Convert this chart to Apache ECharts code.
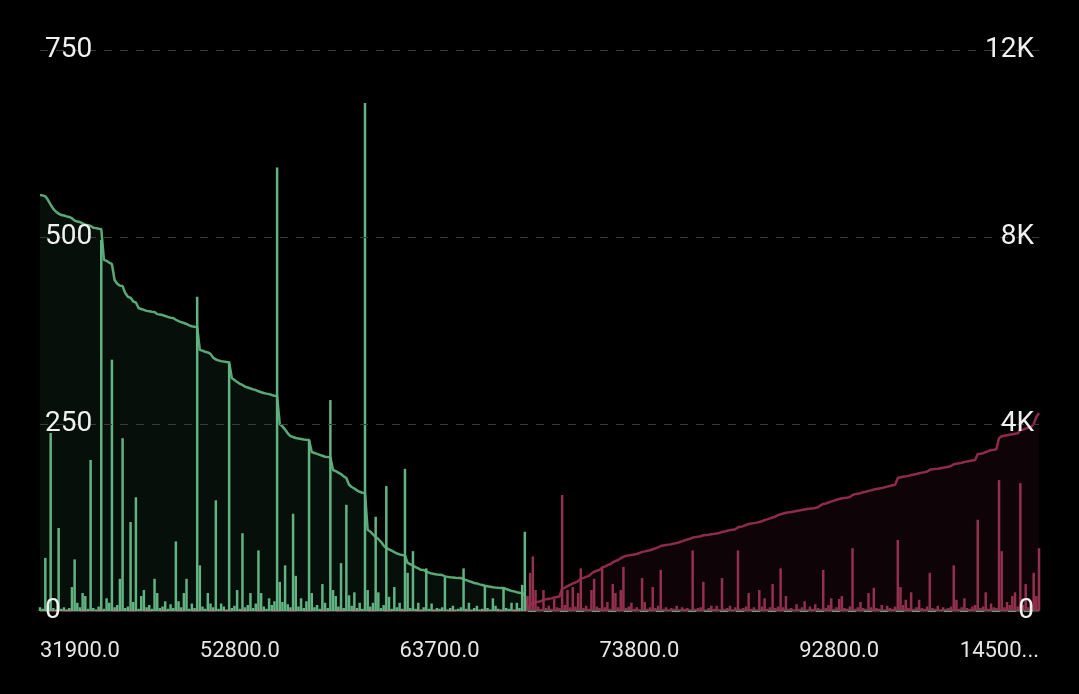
<!DOCTYPE html>
<html>
<head>
<meta charset="utf-8">
<script src="https://cdn.jsdelivr.net/npm/echarts@6/dist/echarts.min.js"></script>
<style>
html,body{margin:0;padding:0;background:#000;}
#chart{width:1079px;height:694px;}
</style>
</head>
<body>
<div id="chart"></div>
<script>
// ---- data ----
const tickLabels = ['31900.0', '52800.0', '63700.0', '73800.0', '92800.0', '145000.0'];
const LABEL_STEP = 75;

// bid side (green), per price level, left axis
const bidSizes = [
  5,3,71,6,238,4,2,111,3,5, 2,4,32,69,11,5,24,20,3,202,
  4,2,6,496,3,17,11,336,5,8, 43,231,4,6,119,12,152,3,20,28,
  5,8,3,43,24,4,6,13,3,9, 4,93,13,5,24,43,3,10,4,420,
  61,6,3,24,10,5,148,3,10,6, 2,331,4,7,28,3,104,5,8,24,
  4,10,81,24,6,3,17,8,13,593, 39,12,61,9,5,130,47,6,17,4,
  13,229,24,5,8,3,36,11,4,282, 28,20,6,64,4,142,21,7,25,4,
  11,3,679,28,6,11,126,25,4,8, 167,19,3,32,5,11,3,190,51,4,
  80,3,11,2,5,57,3,10,2,4, 3,5,45,2,4,7,2,3,5,57,
  3,11,2,4,7,2,3,33,4,2, 17,7,3,2,30,4,3,11,2,11,
  4,35,106
];
// bid cumulative depth, right axis
const bidDepth = [
  8900,8890,8870,8790,8690,8600,8540,8500,8470,8460, 8440,8430,8400,8350,8330,8320,8290,8260,8250,8235,
  8200,8190,8175,8170,7510,7490,7450,7420,7080,7000, 6960,6950,6800,6720,6700,6620,6600,6480,6460,6440,
  6420,6410,6400,6396,6350,6340,6330,6310,6290,6275, 6267,6230,6200,6180,6160,6140,6110,6090,6080,6075,
  5583,5570,5545,5530,5500,5420,5380,5360,5345,5335, 5326,5320,4984,4940,4900,4860,4835,4800,4780,4760,
  4740,4727,4700,4680,4663,4650,4640,4620,4605,4599, 4000,3950,3880,3800,3740,3722,3700,3690,3680,3670,
  3662,3658,3401,3380,3360,3340,3320,3300,3294,3290, 3016,2990,2960,2930,2880,2845,2700,2652,2620,2580,
  2550,2530,2524,1733,1700,1640,1583,1540,1480,1400, 1348,1320,1290,1260,1230,1210,1198,1190,1027,1000,
  970,940,910,880,877,840,820,800,790,780, 775,770,740,730,720,715,710,708,706,680,
  660,640,620,600,590,570,556,540,530,520, 510,500,495,493,492,470,450,430,420,400,
  390,385,340
];
// ask side (red), per price level, left axis
const askSizes = [
  20,51,73,28,6,3,28,4,7,3, 16,5,4,155,8,28,5,32,6,24,
  57,4,7,3,28,43,6,4,57,5, 12,3,36,24,5,28,59,4,6,11,
  3,5,2,44,12,3,5,32,4,7, 55,3,5,2,4,3,7,2,5,3,
  4,2,81,3,4,5,39,2,4,7, 3,7,2,44,3,4,7,2,5,81,
  3,4,6,24,3,5,2,28,6,17, 3,5,36,4,6,57,5,20,3,4,
  2,9,3,5,13,2,6,3,9,4, 3,55,4,8,17,3,5,16,20,4,
  3,6,84,3,5,12,4,3,24,5, 31,4,3,8,2,7,4,3,6,95,
  32,8,15,4,25,3,5,15,4,3, 6,51,4,3,7,2,5,3,4,6,
  61,15,3,5,17,4,3,6,8,122, 4,6,25,3,10,5,4,175,80,5,
  12,8,20,25,6,171,8,36,5,12, 51,20,84
];
// ask cumulative depth, right axis
const askDepth = [
  60,120,170,193,200,210,240,250,260,270, 290,300,310,480,500,530,560,590,610,640,
  690,710,730,750,800,840,860,880,930,950, 980,1000,1040,1070,1090,1130,1160,1180,1190,1200,
  1210,1220,1240,1265,1275,1290,1300,1320,1340,1360, 1390,1400,1410,1420,1430,1445,1455,1470,1490,1510,
  1530,1545,1570,1580,1590,1600,1620,1625,1630,1640, 1650,1660,1670,1690,1700,1715,1730,1740,1750,1790,
  1800,1815,1840,1860,1870,1880,1890,1905,1920,1945, 1960,1980,2000,2020,2050,2070,2085,2100,2110,2118,
  2130,2140,2150,2160,2170,2180,2190,2195,2203,2220, 2260,2290,2300,2320,2340,2360,2380,2395,2410,2417,
  2420,2440,2481,2500,2510,2520,2540,2550,2570,2580, 2600,2610,2620,2630,2645,2660,2674,2690,2700,2845,
  2860,2870,2880,2890,2910,2920,2930,2945,2960,2970, 2985,3020,3030,3040,3045,3055,3065,3075,3085,3102,
  3140,3150,3160,3170,3185,3200,3210,3220,3230,3358, 3365,3375,3400,3420,3444,3450,3460,3700,3740,3750,
  3760,3770,3780,3790,3800,3870,3880,3900,3920,3940, 4000,4150,4235
];
const leftAxisMax = 750, leftAxisStep = 250;
const rightAxisMax = 12000, rightAxisStep = 4000;

// ---- build ----
const nBid = bidSizes.length, nAsk = askSizes.length, N = nBid + nAsk;
const categories = [];
for (let i = 0; i < N; i++) {
  categories.push(i % LABEL_STEP === 0 ? tickLabels[i / LABEL_STEP] : '');
}
const noneAsk = new Array(nAsk).fill(null);
const noneBid = new Array(nBid).fill(null);
const zeroAsk = new Array(nAsk).fill(0);
const zeroBid = new Array(nBid).fill(0);

const GREEN_BAR = '#62b383', GREEN_LINE = '#59a877';
const RED_BAR = '#93304f', RED_LINE = '#8e2b4a';

const chart = echarts.init(document.getElementById('chart'), null, {renderer: 'canvas'});
chart.setOption({
  backgroundColor: '#000',
  animation: false,
  grid: {left: 40, right: 40, top: 50, bottom: 83, containLabel: false},
  xAxis: {
    type: 'category',
    data: categories,
    boundaryGap: false,
    axisLine: {show: false},
    axisTick: {show: false},
    splitLine: {show: false},
    axisLabel: {
      interval: LABEL_STEP - 1,
      color: '#e6e6e6',
      fontFamily: 'Roboto',
      fontSize: 22,
      margin: 29,
      alignMinLabel: 'left',
      alignMaxLabel: 'right',
      formatter: v => (v.length > 7 ? v.slice(0, 5) + '...' : v)
    }
  },
  yAxis: [{
    type: 'value', position: 'left', min: 0, max: leftAxisMax, interval: leftAxisStep, z: 10,
    axisLine: {show: false}, axisTick: {show: false},
    splitLine: {show: true, lineStyle: {color: '#3a3a3a', type: [8, 8], width: 1}},
    axisLabel: {inside: true, margin: 1, color: '#f0f0f0', fontFamily: 'Roboto', fontSize: 28,
      padding: [5, 6, 0, 4]}
  }, {
    type: 'value', position: 'right', min: 0, max: rightAxisMax, interval: rightAxisStep, z: 10,
    axisLine: {show: false}, axisTick: {show: false}, splitLine: {show: false},
    axisLabel: {inside: true, margin: 5, color: '#f0f0f0', fontFamily: 'Roboto', fontSize: 28,
      padding: [5, 0, 0, 6],
      formatter: v => (v === 0 ? '0' : (v / 1000) + 'K')}
  }],
  series: [
    {type: 'line', yAxisIndex: 1, data: zeroBid.concat(askDepth), symbol: 'none',
      lineStyle: {color: RED_LINE, width: 2.5}, areaStyle: {color: 'rgba(150,40,80,0.13)'}, z: 2},
    {type: 'line', yAxisIndex: 1, data: bidDepth.concat(zeroAsk), symbol: 'none',
      lineStyle: {color: GREEN_LINE, width: 2.5}, areaStyle: {color: 'rgba(70,170,110,0.12)'}, z: 2},
    {type: 'bar', yAxisIndex: 0, data: bidSizes.concat(noneAsk), barWidth: 2.5, barGap: '-100%',
      itemStyle: {color: GREEN_BAR}, z: 3},
    {type: 'bar', yAxisIndex: 0, data: noneBid.concat(askSizes), barWidth: 2.5, barGap: '-100%',
      itemStyle: {color: RED_BAR}, z: 3}
  ]
});
</script>
</body>
</html>
